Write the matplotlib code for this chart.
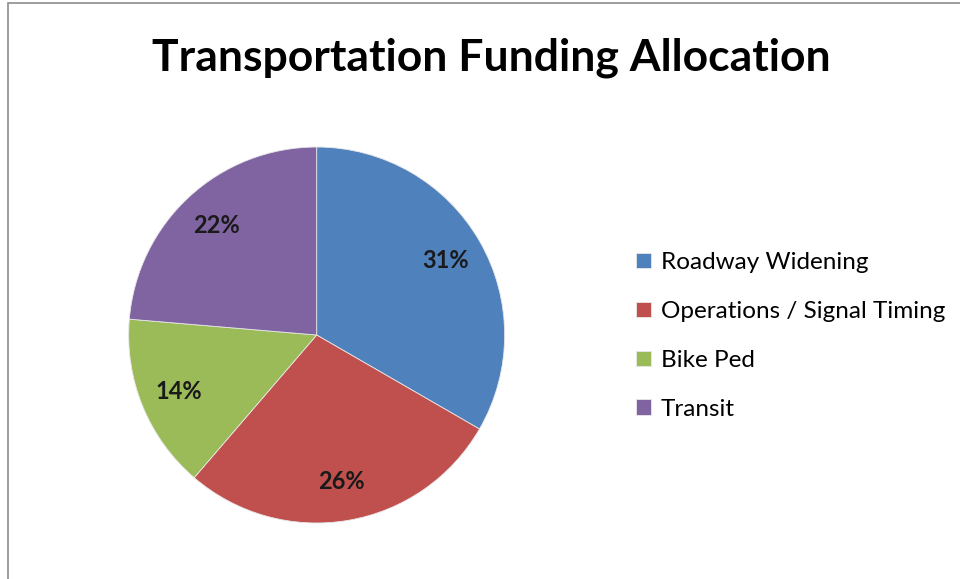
import matplotlib.pyplot as plt
from matplotlib.patches import Rectangle

# funding shares (values as shown on the slice labels)
categories = ["Roadway Widening", "Operations / Signal Timing", "Bike Ped", "Transit"]
values = [31, 26, 14, 22]
colors = ["#4F81BD", "#C0504D", "#9BBB59", "#8064A2"]

plt.rcParams['font.family'] = ['Lato', 'DejaVu Sans']

fig = plt.figure(figsize=(9.6, 5.79), dpi=100)
fig.patch.set_facecolor("white")

# thin grey chart-area border
fig.patches.append(Rectangle((8 / 960, -0.1), 1.2, 1 - 3 / 579 + 0.1, transform=fig.transFigure,
                             fill=False, edgecolor="#8c8c8c", linewidth=1.2))

ax = fig.add_axes([0.134, 0.0967, 0.3917, 0.6494])
total = sum(values)
wedges, texts, autotexts = ax.pie(
    values, colors=colors, startangle=90, counterclock=False,
    autopct=lambda p: f"{round(p * total / 100)}%", pctdistance=0.79,
    wedgeprops=dict(edgecolor="#e8e8e8", linewidth=0.6), frame=False)
for t in autotexts:
    t.set_fontsize(17)
    t.set_fontweight("bold")
    t.set_color("#1a1a1a")
ax.set_xlim(-1, 1)
ax.set_ylim(-1, 1)
ax.set_aspect("equal")

fig.text(0.512, 0.9, "Transportation Funding Allocation", ha="center", va="center",
         fontsize=32, fontweight="bold", color="black")

fig.legend(wedges, categories, loc="center left", bbox_to_anchor=(0.64, 0.42),
           frameon=False, fontsize=17.5, handlelength=0.6, handleheight=0.6,
           handletextpad=0.4, labelspacing=1.15)

fig.savefig("out.png", dpi=100)
